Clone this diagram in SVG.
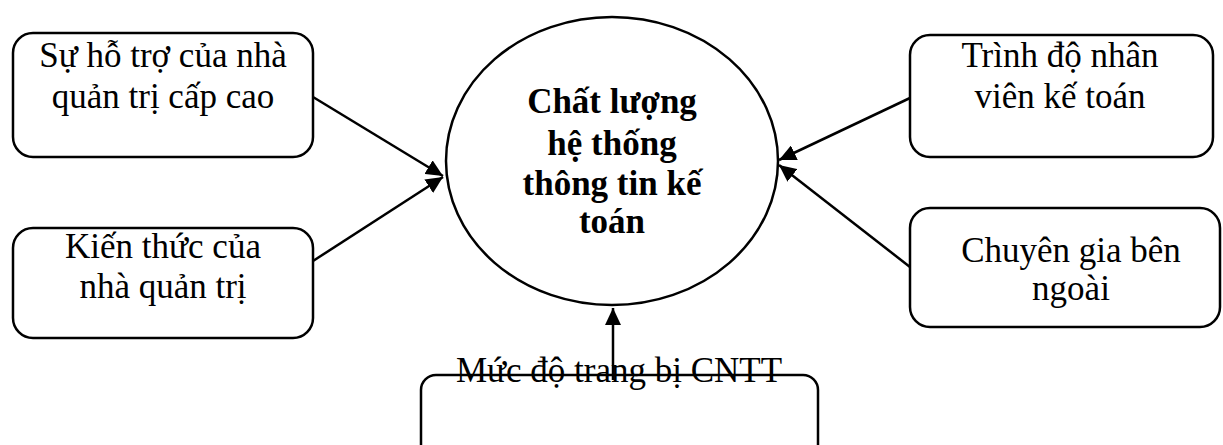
<svg xmlns="http://www.w3.org/2000/svg" width="1223" height="445" viewBox="0 0 1223 445">
<style>
.box{fill:#fff;stroke:#000;stroke-width:2.5}
.t{font-family:"Liberation Serif","Times New Roman",serif;font-size:35px;fill:#000;text-anchor:middle}
.b{font-family:"Liberation Serif","Times New Roman",serif;font-size:35px;font-weight:bold;fill:#000;text-anchor:middle}
.c{stroke:#000;stroke-width:2.5;fill:none;marker-end:url(#ah)}
</style>
<defs>
<marker id="ah" markerUnits="userSpaceOnUse" markerWidth="18" markerHeight="16" refX="17" refY="8" orient="auto">
<path d="M0,0 L17,8 L0,16 Z" fill="#000"/>
</marker>
</defs>
<g id="n1">
<rect class="box" x="13" y="33" width="300" height="124" rx="20"/>
<text class="t" x="163" y="67">Sự hỗ trợ của nhà</text>
<text class="t" x="163" y="108">quản trị cấp cao</text>
</g>
<g id="n2">
<rect class="box" x="13" y="228" width="300" height="110" rx="20"/>
<text class="t" x="163" y="258">Kiến thức của</text>
<text class="t" x="163" y="298">nhà quản trị</text>
</g>
<g id="center">
<ellipse class="box" cx="612" cy="161" rx="166" ry="144"/>
<text class="b" x="612" y="113">Chất lượng</text>
<text class="b" x="612" y="155">hệ thống</text>
<text class="b" x="612" y="195">thông tin kế</text>
<text class="b" x="612" y="233">toán</text>
</g>
<g id="n3">
<rect class="box" x="910" y="35" width="303" height="122" rx="20"/>
<text class="t" x="1060" y="67">Trình độ nhân</text>
<text class="t" x="1060" y="108">viên kế toán</text>
</g>
<g id="n4">
<rect class="box" x="910" y="208" width="310" height="119" rx="20"/>
<text class="t" x="1071" y="262">Chuyên gia bên</text>
<text class="t" x="1071" y="300">ngoài</text>
</g>
<g id="n5">
<rect class="box" x="421" y="375" width="397" height="90" rx="15"/>
</g>
<g id="connectors">
<line class="c" x1="313" y1="97" x2="443" y2="176"/>
<line class="c" x1="313" y1="261" x2="443" y2="177"/>
<line class="c" x1="910" y1="98" x2="779" y2="160"/>
<line class="c" x1="910" y1="267" x2="779" y2="165"/>
<line class="c" x1="613" y1="380" x2="613" y2="308"/>
</g>
<text class="t" x="619" y="382">Mức độ trang bị CNTT</text>
</svg>
